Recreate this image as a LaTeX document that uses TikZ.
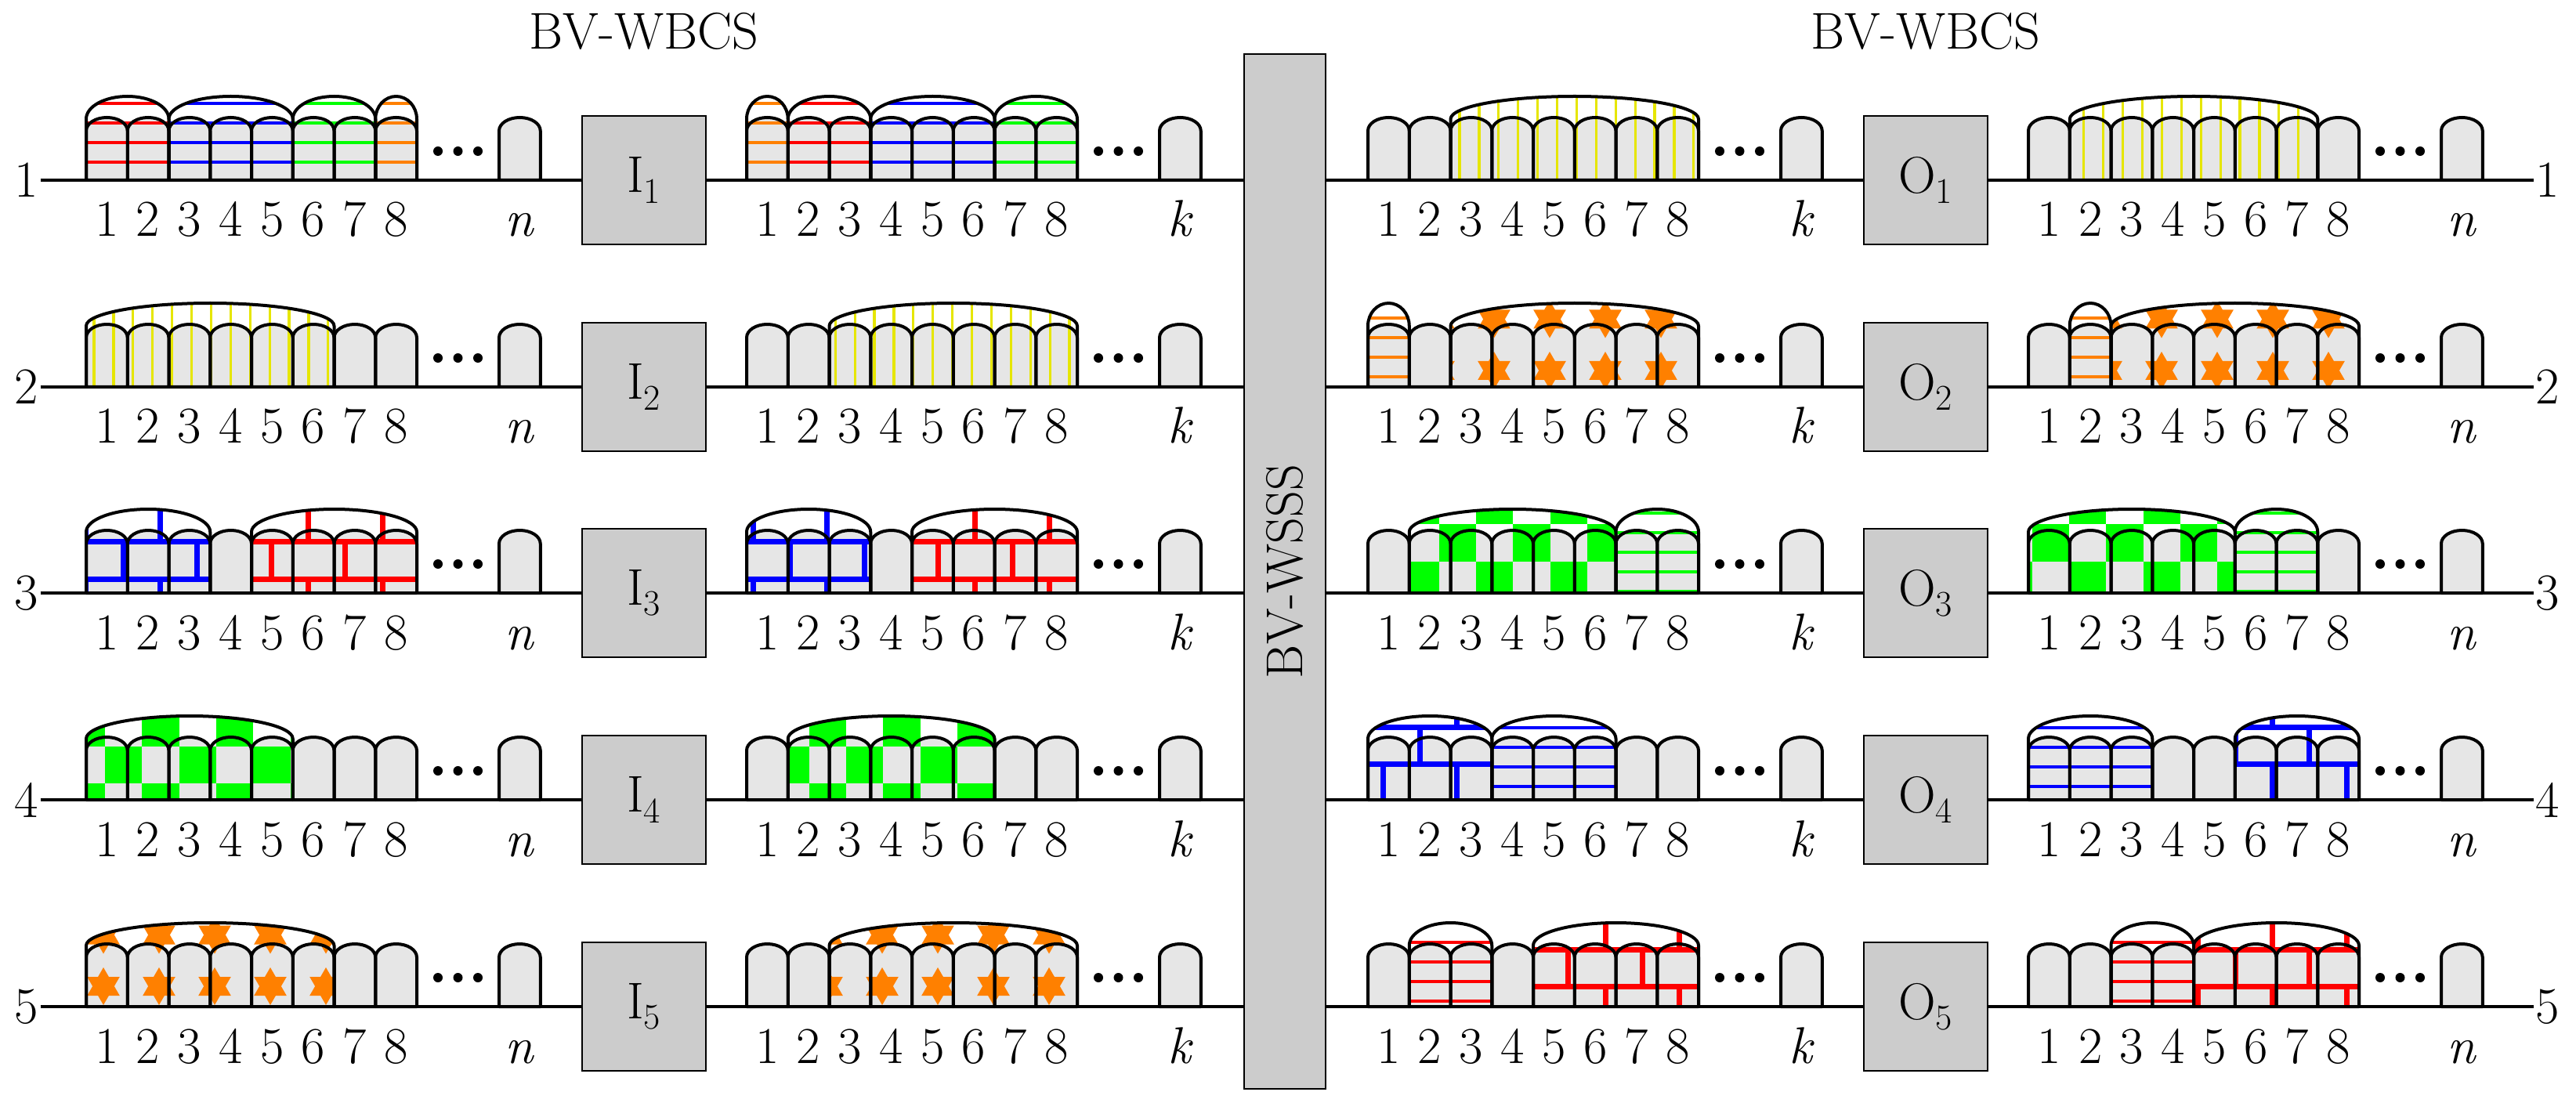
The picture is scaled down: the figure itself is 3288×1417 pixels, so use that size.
\documentclass[tikz,border=0pt]{standalone}
\usepackage{fontspec}
\definecolor{cgray}{RGB}{230,230,230}
\definecolor{bgray}{RGB}{204,204,204}
\definecolor{cyel}{RGB}{230,230,0}
\definecolor{corange}{RGB}{255,128,0}
\definecolor{cgreen}{RGB}{0,255,0}
\definecolor{cblue}{RGB}{0,0,255}
\definecolor{cred}{RGB}{255,0,0}
\newcommand\cellp[2]{(#1,#2) -- (#1,#2-63) arc[start angle=180,end angle=360,x radius=26.375,y radius=17] -- (#1+52.75,#2) -- cycle}
\newcommand\patH[2]{%
 \pgfmathtruncatemacro\ja{floor((#1-125-207)/24.9)}%
 \pgfmathtruncatemacro\jb{\ja+7}%
 \foreach \jj in {\ja,...,\jb}{\draw[#2,line width=2.2pt] (\xa-5,207+\jj*24.9) -- (\xb+5,207+\jj*24.9);}%
}
\newcommand\patV[2]{%
 \pgfmathtruncatemacro\ia{floor((\xa-120)/24.9)}%
 \pgfmathtruncatemacro\ib{\ia+ceil((\xb-\xa)/24.9)+1}%
 \foreach \ii in {\ia,...,\ib}{\draw[cyel,line width=1.6pt] (120+\ii*24.9,#1-130) -- (120+\ii*24.9,#1);}%
}
\newcommand\patB[2]{%
 \pgfmathtruncatemacro\ja{floor((#1-125-739)/47.3)}%
 \pgfmathtruncatemacro\jb{\ja+4}%
 \pgfmathtruncatemacro\ia{floor((\xa-260)/94.6)}%
 \pgfmathtruncatemacro\ib{\ia+ceil((\xb-\xa)/94.6)+2}%
 \foreach \jj in {\ja,...,\jb}{%
   \pgfmathsetmacro\yy{739+\jj*47.3}%
   \draw[#2,line width=3.5pt] (\xa-5,\yy) -- (\xb+5,\yy);
   \pgfmathsetmacro\ox{157+47.3*mod(\jj+100,2)}%
   \foreach \ii in {\ia,...,\ib}{\draw[#2,line width=3.5pt] (\ox+\ii*94.6,\yy-47.3) -- (\ox+\ii*94.6,\yy);}%
 }%
}
\newcommand\patC[2]{%
 \pgfmathtruncatemacro\ja{floor((#1-125-953)/47.3)}%
 \pgfmathtruncatemacro\jb{\ja+3}%
 \pgfmathtruncatemacro\ia{floor((\xa-134)/47.3)}%
 \pgfmathtruncatemacro\ib{\ia+ceil((\xb-\xa)/47.3)+1}%
 \foreach \jj in {\ja,...,\jb}{\foreach \ii in {\ia,...,\ib}{%
   \pgfmathtruncatemacro\pty{mod(\ii+\jj+400,2)}%
   \ifnum\pty=0 \fill[#2] (134+\ii*47.3,953+\jj*47.3) rectangle ++(47.3,47.3);\fi}}%
}
\newcommand\patS[2]{%
 \pgfmathtruncatemacro\ja{floor((1259-#1-40)/65.5)}%
 \pgfmathtruncatemacro\jb{\ja+3}%
 \pgfmathtruncatemacro\ia{floor((\xa-132-30)/71)}%
 \pgfmathtruncatemacro\ib{\ia+ceil((\xb-\xa)/71)+2}%
 \foreach \jj in {\ja,...,\jb}{\foreach \ii in {\ia,...,\ib}{%
   \fill[#2,shift={(132+\ii*71,1259-\jj*65.5)}] (90:24) -- (210:24) -- (330:24) -- cycle (270:24) -- (30:24) -- (150:24) -- cycle;}}%
}
\newcommand\grp[6]{%
 \pgfmathsetmacro\xa{#1+(#3-1)*52.75}%
 \pgfmathsetmacro\xb{#1+#4*52.75}%
 \pgfmathsetmacro\rx{(\xb-\xa)/2}%
 \begin{scope}
 \clip (\xa,#2) -- (\xa,#2-78) arc[start angle=180,end angle=360,x radius=\rx,y radius=29] -- (\xb,#2) -- cycle;
 \csname pat#5\endcsname{#2}{#6}
 \end{scope}
 \draw[ol] (\xa,#2) -- (\xa,#2-78) arc[start angle=180,end angle=360,x radius=\rx,y radius=29] -- (\xb,#2);
}
\begin{document}
\begin{tikzpicture}[x=0.5pt,y=-0.5pt,
  ol/.style={line width=2pt,line join=round},
  rowline/.style={line width=2pt},
  box/.style={draw=black,line width=0.6pt,fill=bgray,minimum width=79pt,minimum height=82pt,inner sep=0pt},
  lbl/.style={font=\fontsize{33}{38}\selectfont,inner sep=0pt,anchor=base},
  txt/.style={font=\fontsize{33}{38}\selectfont,inner sep=1pt}]
\useasboundingbox (0,0) rectangle (3288,1417);
\node[txt] (T1) at (822,40) {BV-WBCS};
\node[txt] (T2) at (2458,40) {BV-WBCS};
\node[box,minimum width=52pt,minimum height=660.5pt] (W) at (1640,729.5) {};
\node[txt,rotate=90] (WL) at (W.center) {BV-WSSS};
\foreach \r/\B in {1/230,2/494,3/757,4/1021,5/1285}{
  \node[txt] (L\r) at (34,\B) {\r};
  \node[txt] (R\r) at (3252,\B) {\r};
  \node[box,font=\fontsize{33}{38}\selectfont] (I\r) at (822,\B) {I\textsubscript{\r}};
  \node[box,font=\fontsize{33}{38}\selectfont] (O\r) at (2458,\B) {O\textsubscript{\r}};
  \draw[rowline] (L\r.east) -- (I\r.west);
  \draw[rowline] (I\r.east) -- (W.west |- I\r.east);
  \draw[rowline] (W.east |- O\r.west) -- (O\r.west);
  \draw[rowline] (O\r.east) -- (R\r.west);
}
\foreach \X in {110,953,1746,2589}{\foreach \B in {230,494,757,1021,1285}{
  \foreach \m in {0,...,7}{\fill[cgray] \cellp{\X+\m*52.75}{\B};}
}}
% left
\grp{110}{230}{1}{2}{H}{cred}\grp{110}{230}{3}{5}{H}{cblue}\grp{110}{230}{6}{7}{H}{cgreen}\grp{110}{230}{8}{8}{H}{corange}
\grp{953}{230}{1}{1}{H}{corange}\grp{953}{230}{2}{3}{H}{cred}\grp{953}{230}{4}{6}{H}{cblue}\grp{953}{230}{7}{8}{H}{cgreen}
\grp{110}{494}{1}{6}{V}{cyel}\grp{953}{494}{3}{8}{V}{cyel}
\grp{110}{757}{1}{3}{B}{cblue}\grp{110}{757}{5}{8}{B}{cred}
\grp{953}{757}{1}{3}{B}{cblue}\grp{953}{757}{5}{8}{B}{cred}
\grp{110}{1021}{1}{5}{C}{cgreen}\grp{953}{1021}{2}{6}{C}{cgreen}
\grp{110}{1285}{1}{6}{S}{corange}\grp{953}{1285}{3}{8}{S}{corange}
% right
\grp{1746}{230}{3}{8}{V}{cyel}\grp{2589}{230}{2}{7}{V}{cyel}
\grp{1746}{494}{1}{1}{H}{corange}\grp{1746}{494}{3}{8}{S}{corange}
\grp{2589}{494}{2}{2}{H}{corange}\grp{2589}{494}{3}{8}{S}{corange}
\grp{1746}{757}{2}{6}{C}{cgreen}\grp{1746}{757}{7}{8}{H}{cgreen}
\grp{2589}{757}{1}{5}{C}{cgreen}\grp{2589}{757}{6}{7}{H}{cgreen}
\grp{1746}{1021}{1}{3}{B}{cblue}\grp{1746}{1021}{4}{6}{H}{cblue}
\grp{2589}{1021}{1}{3}{H}{cblue}\grp{2589}{1021}{6}{8}{B}{cblue}
\grp{1746}{1285}{2}{3}{H}{cred}\grp{1746}{1285}{5}{8}{B}{cred}
\grp{2589}{1285}{3}{4}{H}{cred}\grp{2589}{1285}{5}{8}{B}{cred}
\foreach \X/\lab in {110/n,953/k,1746/k,2589/n}{\foreach \B in {230,494,757,1021,1285}{
  \foreach \m in {0,...,7}{\draw[ol] \cellp{\X+\m*52.75}{\B};}
  \draw[ol,fill=cgray] \cellp{\X+527}{\B};
  \foreach \d in {449,474.5,500}{\fill (\X+\d,\B-37) circle[radius=6];}
  \foreach \m in {1,...,8}{\node[lbl] (n\X-\B-\m) at (\X+\m*52.75-26.375,\B+72) {\m};}
  \node[lbl] (n\X-\B-e) at (\X+553.4,\B+72) {\textit{\lab}};
}}
\end{tikzpicture}
\end{document}
